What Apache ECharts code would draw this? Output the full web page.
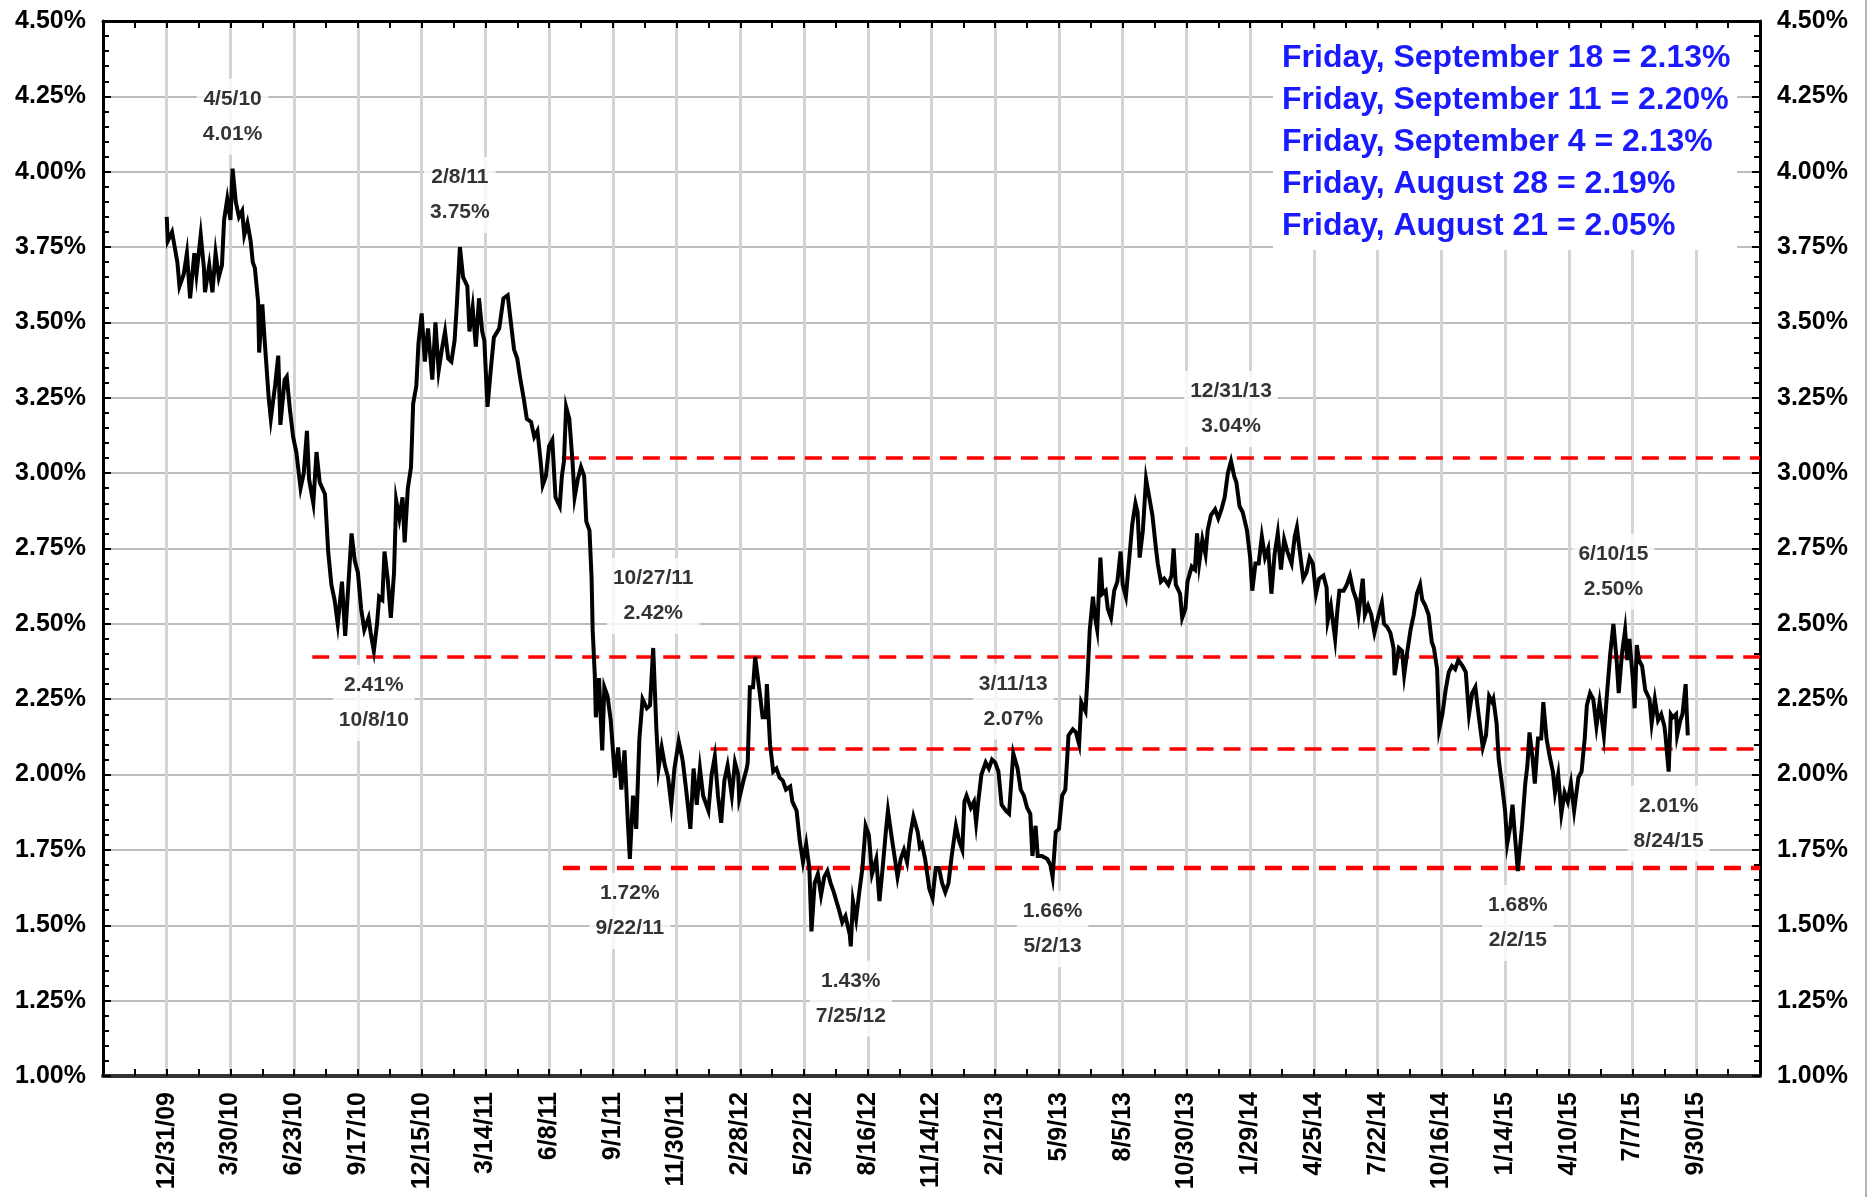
<!DOCTYPE html>
<html>
<head>
<meta charset="utf-8">
<title>10-Year Treasury Yield 2010-2015</title>
<script src="https://cdn.jsdelivr.net/npm/echarts@6/dist/echarts.min.js"></script>
<style>
  html, body { margin: 0; padding: 0; background: #fff; }
  #chart { width: 1871px; height: 1197px; }
</style>
</head>
<body>
<div id="chart"></div>
<script>
// x axis = trading day index, one labelled gridline every 60 trading days
const dateLabels = [
  '12/31/09', '3/30/10', '6/23/10', '9/17/10', '12/15/10', '3/14/11', '6/8/11', '9/1/11',
  '11/30/11', '2/28/12', '5/22/12', '8/16/12', '11/14/12', '2/12/13', '5/9/13', '8/5/13',
  '10/30/13', '1/29/14', '4/25/14', '7/22/14', '10/16/14', '1/14/15', '4/10/15', '7/7/15', '9/30/15'
]

// [trading day, yield %]
const treasuryYield = [
  [0,3.85],[1,3.77],[5,3.80],[10,3.70],[12,3.62],[16,3.66],[19,3.73],[22,3.58],[26,3.73],[28,3.66],
  [32,3.79],[35,3.68],[36,3.60],[40,3.69],[43,3.60],[46,3.73],[49,3.65],[52,3.69],[54,3.84],[57,3.91],
  [60,3.84],[62,4.01],[65,3.90],[68,3.85],[71,3.87],[73,3.79],[76,3.83],[79,3.77],[81,3.70],[83,3.68],
  [86,3.57],[87,3.40],[90,3.56],[92,3.45],[96,3.25],[98,3.18],[102,3.29],[105,3.39],[107,3.16],[111,3.31],
  [113,3.32],[116,3.21],[119,3.12],[122,3.07],[126,2.95],[129,3.00],[132,3.14],[134,2.98],[138,2.90],[141,3.07],
  [144,2.97],[149,2.93],[152,2.74],[155,2.63],[158,2.58],[161,2.50],[165,2.64],[168,2.46],[171,2.63],[174,2.80],
  [177,2.71],[180,2.67],[183,2.55],[186,2.48],[190,2.52],[192,2.47],[195,2.41],[198,2.50],[200,2.59],[203,2.58],
  [205,2.74],[208,2.65],[211,2.52],[214,2.67],[216,2.91],[219,2.85],[222,2.92],[224,2.77],[227,2.95],[230,3.02],
  [232,3.23],[235,3.29],[237,3.43],[240,3.53],
  [243,3.37],[246,3.48],[250,3.31],[253,3.50],[256,3.34],[259,3.41],[262,3.47],[265,3.38],[268,3.37],[271,3.44],
  [273,3.55],[276,3.75],[279,3.65],[283,3.62],[285,3.47],[288,3.55],[291,3.42],[294,3.58],[297,3.47],[299,3.44],
  [302,3.22],[305,3.34],[308,3.45],[313,3.48],[317,3.58],[321,3.59],[324,3.50],[327,3.41],[330,3.38],[333,3.31],
  [336,3.25],[339,3.18],[343,3.17],[346,3.12],[349,3.14],[352,3.04],[354,2.96],[357,2.99],[360,3.09],[363,3.11],
  [366,2.92],[370,2.89],[372,2.99],[374,3.04],[376,3.22],[379,3.18],[382,3.04],[384,2.92],[387,2.98],[390,3.02],
  [393,2.99],[395,2.84],[398,2.81],[400,2.65],[401,2.48],[403,2.33],[404,2.19],[407,2.32],[410,2.08],[412,2.29],
  [415,2.26],[418,2.18],[422,1.99],[425,2.09],[428,1.95],[431,2.08],[434,1.85],[436,1.72],[439,1.93],[442,1.82],
  [445,2.12],[448,2.25],[452,2.22],[455,2.23],[458,2.42],[461,2.15],[463,2.02],[466,2.09],[469,2.03],[472,1.99],
  [475,1.90],[478,2.02],[482,2.11],[485,2.06],
  [486,2.04],[489,1.95],[493,1.82],[496,2.02],[499,1.90],[502,2.02],[505,1.93],[510,1.88],[513,2.00],[516,2.06],
  [519,1.93],[522,1.84],[525,1.98],[528,2.03],[532,1.93],[535,2.04],[538,2.00],[539,1.92],[543,1.98],[546,2.02],
  [547,2.04],[549,2.29],[552,2.29],[554,2.39],[558,2.28],[561,2.19],[564,2.19],[565,2.30],[568,2.10],[571,2.01],
  [574,2.02],[577,1.99],[580,1.98],[583,1.95],[587,1.96],[589,1.91],[593,1.88],[596,1.78],[599,1.71],[602,1.77],
  [605,1.69],[607,1.48],[610,1.64],[613,1.67],[616,1.60],[619,1.66],[622,1.68],[625,1.64],[628,1.61],[633,1.55],
  [636,1.51],[639,1.53],[643,1.47],[644,1.43],[646,1.58],[649,1.52],[652,1.61],[655,1.69],[658,1.83],[661,1.80],
  [664,1.67],[668,1.72],[671,1.58],[674,1.69],[677,1.81],[679,1.88],[683,1.78],[686,1.71],[688,1.66],[691,1.72],
  [694,1.75],[697,1.71],[700,1.80],[703,1.86],[707,1.81],[709,1.76],[711,1.77],[714,1.72],[718,1.62],[721,1.59],
  [724,1.69],[727,1.69],[730,1.64],[733,1.61],[736,1.64],[739,1.73],[743,1.83],[746,1.78],[749,1.75],[751,1.91],
  [753,1.93],[757,1.89],[760,1.91],
  [762,1.84],[764,1.91],[767,2.00],[771,2.04],[774,2.02],[777,2.05],[780,2.04],[783,2.01],[786,1.90],[790,1.88],
  [793,1.87],[794,1.92],[797,2.07],[801,2.02],[804,1.95],[807,1.93],[810,1.89],[813,1.87],[815,1.73],[818,1.83],
  [820,1.73],[824,1.73],[829,1.72],[832,1.70],[834,1.66],[837,1.81],[840,1.82],[843,1.93],[846,1.95],[849,2.13],
  [853,2.15],[856,2.14],[859,2.10],[861,2.24],[865,2.21],[867,2.33],[869,2.48],[872,2.59],[874,2.52],[876,2.48],
  [879,2.72],[881,2.60],[884,2.61],[886,2.55],[889,2.52],[892,2.61],[895,2.64],[898,2.74],[900,2.63],[903,2.59],
  [906,2.71],[909,2.83],[912,2.90],[914,2.87],[916,2.72],[919,2.81],[922,2.98],[925,2.92],[928,2.86],[931,2.76],
  [933,2.70],[936,2.64],[939,2.65],[943,2.63],[946,2.66],[948,2.75],[950,2.63],[954,2.60],[956,2.52],[959,2.55],
  [961,2.64],[965,2.69],[968,2.68],[970,2.80],[972,2.70],[975,2.78],[978,2.73],[980,2.81],[983,2.86],[987,2.88],
  [990,2.85],[993,2.88],[996,2.92],[999,3.00],[1002,3.04],[1005,2.99],[1007,2.97],[1010,2.89],[1013,2.87],[1017,2.81],
  [1020,2.72],[1022,2.61],[1025,2.70],[1028,2.70],[1031,2.79],[1034,2.72],[1037,2.75],
  [1040,2.60],[1043,2.73],[1046,2.80],[1049,2.68],[1052,2.78],[1055,2.74],[1059,2.70],[1062,2.79],[1064,2.82],[1066,2.76],
  [1070,2.65],[1073,2.67],[1076,2.72],[1079,2.70],[1082,2.60],[1085,2.65],[1089,2.66],[1092,2.62],[1093,2.51],[1096,2.56],
  [1100,2.45],[1102,2.54],[1104,2.61],[1108,2.61],[1111,2.63],[1114,2.66],[1117,2.61],[1120,2.58],[1122,2.53],[1126,2.65],
  [1128,2.53],[1131,2.56],[1134,2.53],[1137,2.47],[1139,2.50],[1141,2.53],[1144,2.57],[1146,2.50],[1149,2.49],[1152,2.47],
  [1155,2.42],[1156,2.33],[1160,2.42],[1163,2.41],[1165,2.33],[1168,2.41],[1171,2.48],[1174,2.53],[1177,2.60],[1180,2.63],
  [1182,2.58],[1185,2.56],[1188,2.53],[1191,2.44],[1193,2.42],[1196,2.35],[1198,2.15],[1201,2.20],[1204,2.28],[1207,2.34],
  [1210,2.36],[1213,2.35],[1216,2.38],[1220,2.36],[1223,2.34],[1226,2.20],[1229,2.27],[1232,2.29],[1235,2.20],[1239,2.09],
  [1242,2.13],[1245,2.26],[1248,2.24],
  [1249,2.25],[1252,2.17],[1254,2.05],[1257,1.97],[1260,1.88],[1262,1.77],[1265,1.83],[1267,1.90],[1269,1.81],[1272,1.68],
  [1276,1.83],[1279,1.97],[1281,2.03],[1283,2.14],[1286,2.05],[1288,1.97],[1291,2.12],[1294,2.12],[1296,2.24],[1299,2.12],
  [1302,2.06],[1305,2.01],[1307,1.94],[1310,2.00],[1313,1.87],[1316,1.94],[1319,1.91],[1322,1.97],[1325,1.88],[1329,1.99],
  [1332,2.01],[1335,2.12],[1337,2.23],[1340,2.27],[1343,2.25],[1346,2.16],[1349,2.24],[1353,2.13],[1356,2.27],[1359,2.40],
  [1362,2.50],[1365,2.38],[1367,2.27],[1370,2.40],[1373,2.48],[1375,2.38],[1377,2.45],[1380,2.33],[1382,2.22],[1384,2.43],
  [1386,2.38],[1389,2.36],[1392,2.28],[1396,2.25],[1398,2.17],[1401,2.25],[1404,2.18],[1407,2.20],[1410,2.16],[1411,2.13],
  [1413,2.05],[1414,2.01],[1416,2.20],[1418,2.19],[1421,2.20],[1422,2.13],[1425,2.18],[1427,2.20],[1430,2.30],[1431,2.21],
  [1432,2.13]
]

// annotated highs (label above) and lows (label below): [day, yield, date]
const peakNotes = [
  [62, 4.01, '4/5/10'], [276, 3.75, '2/8/11'], [458, 2.42, '10/27/11'],
  [797, 2.07, '3/11/13'], [1002, 3.04, '12/31/13'], [1362, 2.50, '6/10/15']
]
const troughNotes = [
  [195, 2.41, '10/8/10'], [436, 1.72, '9/22/11'], [644, 1.43, '7/25/12'],
  [834, 1.66, '5/2/13'], [1272, 1.68, '2/2/15'], [1414, 2.01, '8/24/15']
]

// red dashed support / resistance levels
const levelValues = [3.05, 2.39, 2.085, 1.69]
const levelStartDays = [372, 137, 512, 373]
const levelWidths = [3.5, 3.5, 3.5, 4.5]

const fridayNotes = [
  'Friday, September 18 = 2.13%',
  'Friday, September 11 = 2.20%',
  'Friday, September 4 = 2.13%',
  'Friday, August 28 = 2.19%',
  'Friday, August 21 = 2.05%'
]

const FONT = '"Liberation Sans", Arial, sans-serif'
const X_MIN = -60
const X_MAX = 1500

const xLabel = (v) => {
  const i = Math.round(v / 60)
  if (Math.abs(v - i * 60) > 0.01 || i < 0 || i >= dateLabels.length) return ''
  return dateLabels[i]
}

const baseX = {
  type: 'value',
  min: X_MIN,
  max: X_MAX,
  interval: 60
}

const yAxisCommon = {
  type: 'value',
  min: 1,
  max: 4.5,
  interval: 0.25,
  axisLine: { show: true, onZero: false, lineStyle: { color: '#000', width: 3 } },
  axisTick: { show: true, inside: true, length: 8, lineStyle: { color: '#000', width: 2 } },
  minorTick: { show: true, splitNumber: 5, length: 6, lineStyle: { color: '#000', width: 2 } },
  axisLabel: {
    color: '#000', fontSize: 25, fontWeight: 'bold', fontFamily: FONT, margin: 17,
    formatter: (v) => v.toFixed(2) + '%'
  }
}

const noteLabel = (rows, position) => ({
  show: true,
  position,
  distance: 14,
  formatter: (p) => rows(p).join('\n'),
  backgroundColor: '#fff',
  padding: [3, 6],
  color: '#000',
  fontSize: 21,
  fontWeight: 'bold',
  fontFamily: FONT,
  lineHeight: 35,
  align: 'center'
})

const levelSeries = levelValues.map((lv, i) => ({
  type: 'line',
  data: [[levelStartDays[i], lv], [X_MAX, lv]],
  symbol: 'none',
  silent: true,
  z: 2,
  lineStyle: { color: '#ff0000', width: levelWidths[i], type: [17, 10] }
}))

const chart = echarts.init(document.getElementById('chart'))

chart.setOption({
  animation: false,
  backgroundColor: '#fff',
  grid: { left: 103, right: 111, top: 21, bottom: 121, containLabel: false, outerBoundsMode: 'none' },
  xAxis: [
    {
      ...baseX,
      position: 'bottom',
      axisLine: { show: true, onZero: false, lineStyle: { color: '#333', width: 4 } },
      axisTick: { show: true, inside: true, length: 7, lineStyle: { color: '#000', width: 2 } },
      minorTick: { show: true, splitNumber: 2, length: 7, lineStyle: { color: '#000', width: 2 } },
      splitLine: { show: true, lineStyle: { color: '#d4d4d4', width: 3 } },
      axisLabel: {
        rotate: 90, margin: 16, color: '#000', fontSize: 25, fontWeight: 'bold', fontFamily: FONT,
        formatter: xLabel, showMinLabel: false, showMaxLabel: false
      }
    },
    {
      ...baseX,
      position: 'top',
      axisLine: { show: true, onZero: false, lineStyle: { color: '#000', width: 3 } },
      axisTick: { show: true, inside: true, length: 7, lineStyle: { color: '#000', width: 2 } },
      minorTick: { show: true, splitNumber: 2, length: 7, lineStyle: { color: '#000', width: 2 } },
      splitLine: { show: false },
      axisLabel: { show: false }
    }
  ],
  yAxis: [
    { ...yAxisCommon, position: 'left', splitLine: { show: true, lineStyle: { color: '#bdbdbd', width: 2 } } },
    { ...yAxisCommon, position: 'right', splitLine: { show: false } }
  ],
  series: [
    ...levelSeries,
    {
      type: 'line',
      data: treasuryYield,
      symbol: 'none',
      z: 3,
      lineStyle: { color: '#000', width: 4, join: 'miter' }
    },
    {
      type: 'scatter',
      symbolSize: 0,
      z: 4,
      data: peakNotes.map(([d, v, t]) => ({ value: [d, v], name: t })),
      label: noteLabel((p) => [p.name, p.value[1].toFixed(2) + '%'], 'top')
    },
    {
      type: 'scatter',
      symbolSize: 0,
      z: 4,
      data: troughNotes.map(([d, v, t]) => ({ value: [d, v], name: t })),
      label: noteLabel((p) => [p.value[1].toFixed(2) + '%', p.name], 'bottom')
    }
  ],
  graphic: [
    { type: 'rect', z: 50, shape: { x: 1273, y: 30, width: 464, height: 220 }, style: { fill: '#fff' } },
    ...fridayNotes.map((t, i) => ({
      type: 'text',
      z: 51,
      x: 1282,
      y: 58 + i * 42,
      style: { text: t, font: 'bold 32px ' + FONT, fill: '#1a1aff', verticalAlign: 'middle' }
    })),
    { type: 'line', z: 50, shape: { x1: 1866, y1: 0, x2: 1866, y2: 1197 }, style: { stroke: '#b4b4b4', lineWidth: 2 } }
  ]
})
</script>
</body>
</html>
